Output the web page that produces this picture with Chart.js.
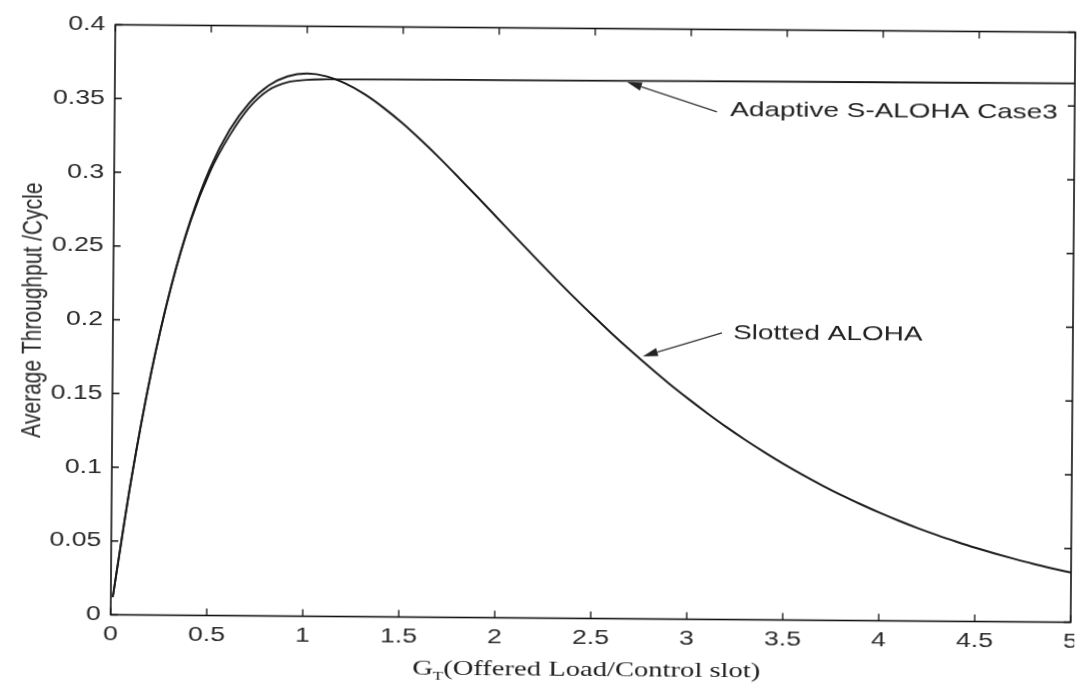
<!DOCTYPE html>
<html>
<head>
<meta charset="utf-8">
<script src="https://cdn.jsdelivr.net/npm/chart.js@4/dist/chart.umd.min.js"></script>
<style>
  html, body { margin: 0; padding: 0; background: #fff; overflow: hidden; }
  #wrap { position: absolute; left: 0; top: 0; width: 1077px; height: 683px;
          transform: rotate(0.45deg); transform-origin: 592.7px 323.5px; }
  canvas { display: block; }
</style>
</head>
<body>
<div id="wrap"><canvas id="c" width="1077" height="683"></canvas></div>
<script>
// Offered load G_T and average throughput per cycle, slotted ALOHA
const gSlotted = [0.01, 0.1, 0.2, 0.3, 0.4, 0.5, 0.6, 0.7, 0.8, 0.9, 1.0,
  1.1, 1.2, 1.3, 1.4, 1.5, 1.6, 1.7, 1.8, 1.9, 2.0,
  2.1, 2.2, 2.3, 2.4, 2.5, 2.6, 2.7, 2.8, 2.9, 3.0,
  3.1, 3.2, 3.3, 3.4, 3.5, 3.6, 3.7, 3.8, 3.9, 4.0,
  4.1, 4.2, 4.3, 4.4, 4.5, 4.6, 4.7, 4.8, 4.9, 5.0];
const sSlotted = [0.012, 0.0905, 0.1637, 0.2222, 0.2681, 0.3033, 0.3293, 0.3476, 0.3595, 0.3659, 0.3679,
  0.3662, 0.3614, 0.3543, 0.3452, 0.3347, 0.3230, 0.3106, 0.2975, 0.2842, 0.2707,
  0.2572, 0.2438, 0.2306, 0.2177, 0.2052, 0.1931, 0.1815, 0.1703, 0.1595, 0.1494,
  0.1397, 0.1304, 0.1217, 0.1135, 0.1057, 0.0984, 0.0915, 0.0850, 0.0790, 0.0733,
  0.0680, 0.0630, 0.0584, 0.0541, 0.0500, 0.0463, 0.0428, 0.0395, 0.0365, 0.0337];

// Adaptive S-ALOHA (case 3): levels off just under the slotted peak
const gAdaptive = [0.01, 0.1, 0.2, 0.3, 0.4, 0.5, 0.6, 0.7, 0.8, 0.9, 1.0, 1.1, 1.2, 2.0, 3.0, 4.0, 5.0];
const sAdaptive = [0.012, 0.0905, 0.1636, 0.2218, 0.2672, 0.3010, 0.3255, 0.3445, 0.3565, 0.3620, 0.3637, 0.3641, 0.3642, 0.3645, 0.3648, 0.3651, 0.3654];

// Axis ticks and their labels
const xTicks = [0, 0.5, 1, 1.5, 2, 2.5, 3, 3.5, 4, 4.5, 5];
const xTickLabels = ['0', '0.5', '1', '1.5', '2', '2.5', '3', '3.5', '4', '4.5', '5'];
const yTicks = [0, 0.05, 0.1, 0.15, 0.2, 0.25, 0.3, 0.35, 0.4];
const yTickLabels = ['0', '0.05', '0.1', '0.15', '0.2', '0.25', '0.3', '0.35', '0.4'];

const seriesNames = ['Slotted ALOHA', 'Adaptive S-ALOHA Case3'];
const yTitle = 'Average Throughput /Cycle';
const xTitleMain = 'G';
const xTitleSub = 'T';
const xTitleRest = '(Offered Load/Control slot)';

// Callouts: [text anchor G, S], [arrow tail G, S], [arrow tip G, S]
const calloutAdaptive = { text: [3.206, 0.3455], tail: [3.137, 0.3441], tip: [2.667, 0.3639] };
const calloutSlotted = { text: [3.23, 0.1943], tail: [3.172, 0.1943], tip: [2.761, 0.1780] };

const STRETCH = 1.33;      // glyphs are drawn wide, as in the original export
const TICK = 7;

function pts(xs, ys) { return xs.map((x, i) => ({ x, y: ys[i] })); }

function wideText(ctx, text, x, y, align, font, color) {
  ctx.save();
  ctx.translate(x, y);
  ctx.scale(STRETCH, 1);
  ctx.font = font;
  ctx.fillStyle = color;
  ctx.textAlign = align;
  ctx.textBaseline = 'middle';
  ctx.fillText(text, 0, 0);
  ctx.restore();
}

function arrow(ctx, x0, y0, x1, y1) {
  const ang = Math.atan2(y1 - y0, x1 - x0);
  const len = 15, half = 4.2;
  const bx = x1 - len * Math.cos(ang), by = y1 - len * Math.sin(ang);
  ctx.save();
  ctx.strokeStyle = '#333';
  ctx.fillStyle = '#222';
  ctx.lineWidth = 1.3;
  ctx.beginPath();
  ctx.moveTo(x0, y0);
  ctx.lineTo(bx, by);
  ctx.stroke();
  ctx.beginPath();
  ctx.moveTo(x1, y1);
  ctx.lineTo(bx + half * Math.sin(ang), by - half * Math.cos(ang));
  ctx.lineTo(bx - half * Math.sin(ang), by + half * Math.cos(ang));
  ctx.closePath();
  ctx.fill();
  ctx.restore();
}

const axesBox = {
  id: 'axesBox',
  afterDraw(chart) {
    const { ctx, chartArea: a, scales: { x, y } } = chart;
    ctx.save();
    // frame and inward ticks on all four sides
    ctx.strokeStyle = '#111';
    ctx.lineWidth = 1.6;
    ctx.strokeRect(a.left, a.top, a.right - a.left, a.bottom - a.top);
    ctx.lineWidth = 1.3;
    ctx.beginPath();
    xTicks.forEach(v => {
      const px = x.getPixelForValue(v);
      ctx.moveTo(px, a.bottom); ctx.lineTo(px, a.bottom - TICK);
      ctx.moveTo(px, a.top); ctx.lineTo(px, a.top + TICK);
    });
    yTicks.forEach(v => {
      const py = y.getPixelForValue(v);
      ctx.moveTo(a.left, py); ctx.lineTo(a.left + TICK, py);
      ctx.moveTo(a.right, py); ctx.lineTo(a.right - TICK, py);
    });
    ctx.stroke();

    const tickFont = '20px "Liberation Sans", Arial, sans-serif';
    xTicks.forEach((v, i) => {
      wideText(ctx, xTickLabels[i], x.getPixelForValue(v), a.bottom + 20, 'center', tickFont, '#2b2b2b');
    });
    yTicks.forEach((v, i) => {
      wideText(ctx, yTickLabels[i], a.left - 10, y.getPixelForValue(v), 'right', tickFont, '#2b2b2b');
    });

    // y title, rotated
    ctx.save();
    ctx.translate(a.left - 80, (a.top + a.bottom) / 2 - 9);
    ctx.scale(STRETCH, 1);
    ctx.rotate(-Math.PI / 2);
    ctx.font = '21px "Liberation Sans", Arial, sans-serif';
    ctx.fillStyle = '#2b2b2b';
    ctx.textAlign = 'center';
    ctx.textBaseline = 'middle';
    ctx.fillText(yTitle, 0, 0);
    ctx.restore();

    // x title with subscript
    ctx.save();
    const mainFont = '22px "Liberation Serif", "Times New Roman", serif';
    const subFont = '13px "Liberation Serif", "Times New Roman", serif';
    ctx.font = mainFont;
    const w1 = ctx.measureText(xTitleMain).width;
    const w3 = ctx.measureText(xTitleRest).width;
    ctx.font = subFont;
    const w2 = ctx.measureText(xTitleSub).width;
    const total = w1 + w2 + w3;
    const cx = (a.left + a.right) / 2 - 4;
    const base = a.bottom + 57;
    ctx.translate(cx - total * 1.3 / 2, base);
    ctx.scale(1.3, 1);
    ctx.fillStyle = '#1e1e1e';
    ctx.textBaseline = 'alphabetic';
    ctx.textAlign = 'left';
    ctx.font = mainFont;
    ctx.fillText(xTitleMain, 0, 0);
    ctx.font = subFont;
    ctx.fillText(xTitleSub, w1, 5);
    ctx.font = mainFont;
    ctx.fillText(xTitleRest, w1 + w2, 0);
    ctx.restore();

    // callouts
    const annFont = '21px "Liberation Sans", Arial, sans-serif';
    [[calloutAdaptive, seriesNames[1]], [calloutSlotted, seriesNames[0]]].forEach(([c, label]) => {
      arrow(ctx, x.getPixelForValue(c.tail[0]), y.getPixelForValue(c.tail[1]),
                 x.getPixelForValue(c.tip[0]), y.getPixelForValue(c.tip[1]));
      wideText(ctx, label, x.getPixelForValue(c.text[0]), y.getPixelForValue(c.text[1]), 'left', annFont, '#222');
    });
    ctx.restore();
  }
};

new Chart(document.getElementById('c'), {
  type: 'scatter',
  data: {
    datasets: [
      { label: seriesNames[0], data: pts(gSlotted, sSlotted), showLine: true,
        borderColor: '#1a1a1a', borderWidth: 2, pointRadius: 0, cubicInterpolationMode: 'monotone' },
      { label: seriesNames[1], data: pts(gAdaptive, sAdaptive), showLine: true,
        borderColor: '#1a1a1a', borderWidth: 1.8, pointRadius: 0, cubicInterpolationMode: 'monotone' }
    ]
  },
  options: {
    responsive: false,
    animation: false,
    devicePixelRatio: 1,
    layout: { padding: { top: 28.5, right: 4, left: 0, bottom: 0 } },
    plugins: { legend: { display: false }, tooltip: { enabled: false } },
    scales: {
      x: {
        type: 'linear', min: 0, max: 5,
        grid: { display: false, drawTicks: false },
        border: { display: false },
        ticks: { display: false, stepSize: 0.5 },
        afterFit(s) { s.height = 64.5; }
      },
      y: {
        type: 'linear', min: 0, max: 0.4,
        grid: { display: false, drawTicks: false },
        border: { display: false },
        ticks: { display: false, stepSize: 0.05 },
        afterFit(s) { s.width = 113; }
      }
    }
  },
  plugins: [axesBox]
});
</script>
</body>
</html>
